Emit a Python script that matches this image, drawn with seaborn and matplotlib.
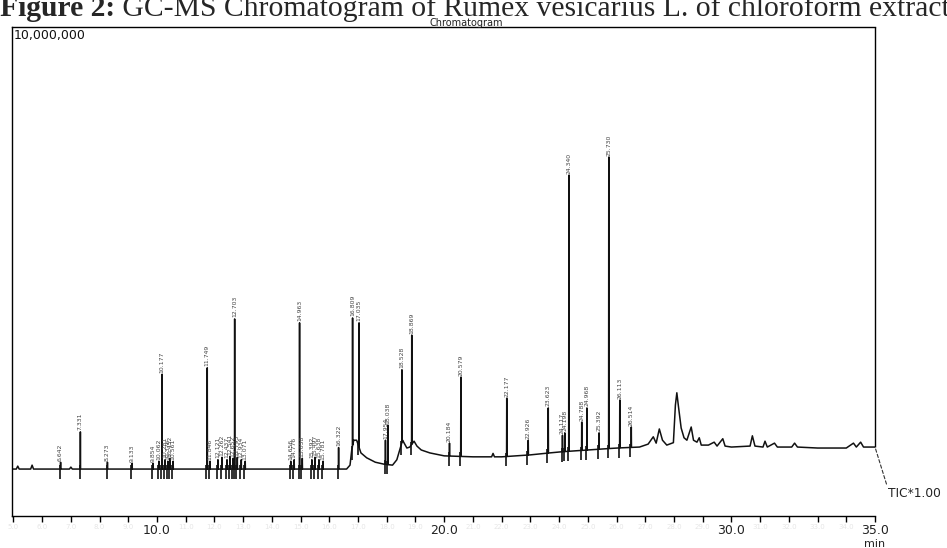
import numpy as np
import pandas as pd
import matplotlib
matplotlib.use("Agg")
import matplotlib.pyplot as plt
import matplotlib.ticker as mticker
import seaborn as sns

# ---------------- data ----------------
# retention time (min) / intensity (counts)
# continuous background trace: baseline drift, tailing, broad late humps
trace_time = [4.95, 5.10, 5.15, 5.20, 5.60, 5.65, 5.70, 6.95, 7.00, 7.05,
              16.60, 16.72, 16.78, 16.85, 16.95, 17.10, 17.30, 17.60, 17.90,
              18.20, 18.35, 18.45, 18.55, 18.70, 18.80, 18.95, 19.05, 19.20,
              19.50, 20.00, 21.00, 21.65, 21.70, 21.75, 22.00, 23.00, 24.00,
              24.50, 25.00, 26.00, 26.80, 27.10, 27.28, 27.38, 27.49, 27.60,
              27.75, 27.98, 28.05, 28.10, 28.15, 28.25, 28.35, 28.45, 28.60,
              28.68, 28.80, 28.88, 28.95, 29.20, 29.40, 29.50, 29.70, 29.78,
              30.00, 30.65, 30.73, 30.82, 31.10, 31.17, 31.25, 31.50, 31.60,
              32.10, 32.20, 32.30, 33.00, 34.00, 34.25, 34.35, 34.50, 34.60,
              35.00]
trace_value = [0.96e6, 0.96e6, 1.02e6, 0.96e6, 0.96e6, 1.04e6, 0.96e6, 0.96e6, 1.00e6, 0.96e6,
               0.96e6, 1.04e6, 1.35e6, 1.55e6, 1.55e6, 1.29e6, 1.19e6, 1.10e6, 1.06e6,
               1.04e6, 1.15e6, 1.35e6, 1.55e6, 1.39e6, 1.41e6, 1.53e6, 1.43e6, 1.35e6,
               1.29e6, 1.23e6, 1.21e6, 1.21e6, 1.28e6, 1.21e6, 1.21e6, 1.25e6, 1.31e6,
               1.33e6, 1.35e6, 1.39e6, 1.41e6, 1.47e6, 1.62e6, 1.49e6, 1.78e6, 1.55e6,
               1.45e6, 1.50e6, 2.27e6, 2.52e6, 2.27e6, 1.80e6, 1.60e6, 1.55e6, 1.82e6,
               1.55e6, 1.51e6, 1.60e6, 1.45e6, 1.45e6, 1.51e6, 1.43e6, 1.58e6, 1.43e6,
               1.41e6, 1.43e6, 1.64e6, 1.43e6, 1.41e6, 1.53e6, 1.41e6, 1.49e6, 1.41e6,
               1.41e6, 1.49e6, 1.41e6, 1.39e6, 1.39e6, 1.49e6, 1.41e6, 1.51e6, 1.41e6,
               1.41e6]

# labelled (integrated) peaks: retention time and apex intensity
peak_time = [6.642, 7.331, 8.273, 9.133, 9.854,
             10.062, 10.177, 10.281, 10.376, 10.452, 10.561,
             11.749, 11.846, 12.121, 12.262, 12.437, 12.541, 12.652, 12.703,
             12.795, 12.934, 13.071,
             14.656, 14.776, 14.963, 15.058, 15.392, 15.497, 15.638, 15.781,
             16.322, 16.809, 17.035, 17.954, 18.038, 18.528, 18.869,
             20.184, 20.579, 22.177, 22.926, 23.623, 24.117, 24.198, 24.340,
             24.788, 24.968, 25.392, 25.730, 26.113, 26.514]
peak_height = [1.10e6, 1.72e6, 1.10e6, 1.08e6, 1.08e6,
               1.12e6, 2.90e6, 1.15e6, 1.12e6, 1.18e6, 1.12e6,
               3.03e6, 1.12e6, 1.15e6, 1.20e6, 1.15e6, 1.22e6, 1.18e6, 4.03e6,
               1.20e6, 1.15e6, 1.12e6,
               1.12e6, 1.15e6, 3.95e6, 1.18e6, 1.15e6, 1.20e6, 1.15e6, 1.12e6,
               1.40e6, 4.05e6, 3.95e6, 1.55e6, 1.86e6, 2.99e6, 3.70e6,
               1.49e6, 2.84e6, 2.41e6, 1.55e6, 2.21e6, 1.65e6, 1.70e6, 6.97e6,
               1.92e6, 2.21e6, 1.70e6, 7.34e6, 2.37e6, 1.82e6]

x_major_ticks = [10.0, 20.0, 30.0, 35.0]
x_all_ticks = [5.0, 6.0, 7.0, 8.0, 9.0, 10.0, 11.0, 12.0, 13.0, 14.0, 15.0,
               16.0, 17.0, 18.0, 19.0, 20.0, 21.0, 22.0, 23.0, 24.0, 25.0,
               26.0, 27.0, 28.0, 29.0, 30.0, 31.0, 32.0, 33.0, 34.0, 35.0]
y_full_scale = 10_000_000

# ---------------- build trace ----------------
sns.set_theme(style="white")
plt.rcParams['font.family'] = ['DejaVu Sans']

tt = np.array(trace_time)
tv = np.array(trace_value)
pt = np.array(peak_time)
ph = np.array(peak_height)
dt = 0.006
rows_t = list(tt)
rows_v = list(tv)
for t, h in zip(pt, ph):
    rows_t += [t - dt, t, t + dt]
    rows_v += [np.interp(t - dt, tt, tv), h, np.interp(t + dt, tt, tv)]
df = pd.DataFrame({"t": rows_t, "v": rows_v}).sort_values("t").reset_index(drop=True)

fig = plt.figure(figsize=(9.47, 5.48), dpi=100)
ax = fig.add_axes([12/947, 32/548, 863/947, 489/548])

sns.lineplot(data=df, x="t", y="v", sort=False, estimator=None,
             color="#111111", lw=1.1, ax=ax)

# integration markers below baseline
base_at_peaks = np.interp(pt - 0.03, tt, tv)
ax.vlines(pt - 0.03, base_at_peaks - 0.2e6, base_at_peaks + 0.08e6,
          color="#111111", lw=1.2)

# peak labels
for t, h in zip(pt, ph):
    ax.text(t, h + 0.03e6, f"{t:.3f}", rotation=90, ha="center", va="bottom",
            fontsize=4.4, color="#444444")

ax.set_xlim(4.95, 35.0)
ax.set_ylim(0, y_full_scale)
ax.set_xlabel("")
ax.set_ylabel("")
ax.set_yticks([])
ax.xaxis.set_major_locator(mticker.FixedLocator(x_all_ticks))
ax.set_xticklabels([f"{v:.1f}" for v in x_all_ticks])
for lab, v in zip(ax.get_xticklabels(), x_all_ticks):
    if v in x_major_ticks:
        lab.set_fontsize(9)
        lab.set_color("#222222")
    else:
        lab.set_fontsize(5)
        lab.set_color("#e6e6e6")
ax.tick_params(axis="x", direction="out", length=4, width=1.0, color="black",
               pad=2, bottom=True)
for s in ["left", "top", "bottom"]:
    ax.spines[s].set_visible(True)
    ax.spines[s].set_color("black")
    ax.spines[s].set_linewidth(1.0)
ax.spines["right"].set_visible(False)
ax.vlines(tt[-1], tv[-1], y_full_scale, color="black", lw=1.0, clip_on=False)

ax.text(0.002, 0.995, f"{y_full_scale:,}", transform=ax.transAxes,
        ha="left", va="top", fontsize=9, color="#111111")

ax.annotate("TIC*1.00", xy=(tt[-1], tv[-1]), xytext=(9, -29),
            textcoords="offset points", ha="left", va="top", fontsize=8.8,
            color="#222222", annotation_clip=False,
            arrowprops=dict(arrowstyle="-", ls=(0, (3, 2)), lw=0.8,
                            color="#333333", shrinkA=0, shrinkB=0,
                            relpos=(0, 1)))
ax.text(35.0, -0.048, "min", transform=ax.get_xaxis_transform(),
        ha="center", va="top", fontsize=8, color="#222222")

fig.text(0.492, 0.958, "Chromatogram", ha="center", va="center",
         fontsize=7, color="#222222")

# figure caption (cut at the top as in the scan)
cap_y = 1 - 16/548
t1 = fig.text(0.0, cap_y, "Figure 2:", ha="left", va="baseline",
              fontsize=21.3, fontweight="bold", family="Liberation Serif")
fig.canvas.draw()
bb = t1.get_window_extent(renderer=fig.canvas.get_renderer())
x2 = bb.x1 / fig.bbox.width
fig.text(x2, cap_y, " GC-MS Chromatogram of Rumex vesicarius L. of chloroform extract",
         ha="left", va="baseline", fontsize=21.3, family="Liberation Serif")

fig.savefig("out.png", dpi=100)
